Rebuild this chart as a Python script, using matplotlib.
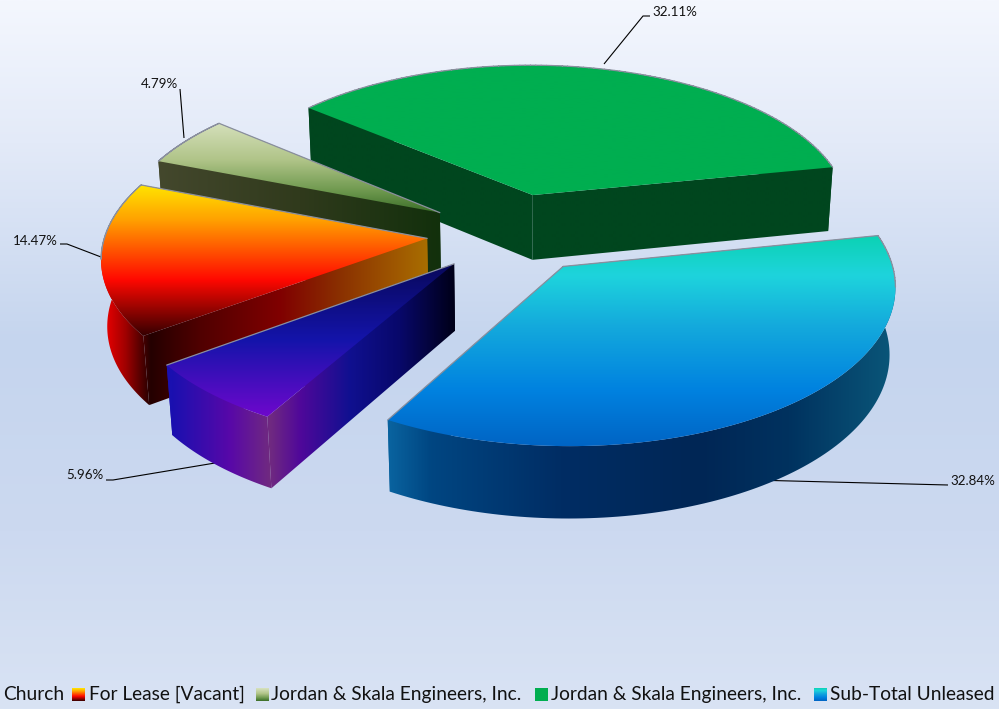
import numpy as np
import matplotlib
matplotlib.use('Agg')
import matplotlib.pyplot as plt
from matplotlib.colors import LinearSegmentedColormap
from matplotlib.patches import Polygon

plt.rcParams['font.family'] = ['Lato', 'DejaVu Sans']

# Slice data, clockwise from the first slice
labels = ['Church', 'For Lease [Vacant]', 'Jordan & Skala Engineers, Inc.',
          'Jordan & Skala Engineers, Inc.', 'Sub-Total Unleased']
values = [5.96, 14.47, 4.79, 32.11, 32.84]
value_labels = ['5.96%', '14.47%', '4.79%', '32.11%', '32.84%']

# Camera and pie settings, all in pixels of the 999x709 canvas
W, H = 999, 709
START_ANGLE = 240.3
EXPLODE = 0.265
CX, CY = 512.0, 233.0
SX, SY = 321.7, 152.0
PERSP = 0.11
DROP = 67.0
DEPTH_W = 0.015

# Top faces shade by screen row, side faces by screen column: (position, colour)
top_stops = [
    [(263, '#08085a'), (340, '#1414aa'), (415, '#6c08cc')],
    [(183, '#ffe800'), (220, '#ffa000'), (280, '#ff0800'), (335, '#380000')],
    [(120, '#d8e2bf'), (160, '#b0c488'), (190, '#709a50'), (213, '#3a6e28')],
    [(60, '#00ae50'), (200, '#00ae50')],
    [(236, '#0cd2b4'), (275, '#1ed4dc'), (325, '#14aadc'), (390, '#0082e0'), (447, '#0064c4')],
]
side_stops = [
    [(172, '#1a10b0'), (230, '#5808a8'), (270, '#702a80'), (300, '#50089a'),
     (350, '#101090'), (400, '#08086a'), (455, '#000018')],
    [(103, '#f00000'), (125, '#a00000'), (150, '#240000'), (200, '#500000'),
     (280, '#800000'), (340, '#8a3000'), (400, '#a05a00'), (428, '#a86e00')],
    [(157, '#44482d'), (300, '#303a1c'), (441, '#12300c')],
    [(307, '#00461e'), (835, '#00461e')],
    [(387, '#0a64a0'), (430, '#004682'), (560, '#002d64'), (700, '#002655'),
     (790, '#00325f'), (890, '#0a5578')],
]

# Leader lines and label anchors
leader_x = [[215, 113, 106], [101, 67, 60], [184, 180], [604, 643, 650], [752, 948]]
leader_y = [[463, 480, 480], [257, 244, 244], [138, 89], [64, 16, 16], [480, 485]]
label_x = [85, 35, 159, 675, 972.5]
label_y = [475, 241, 84, 12, 481]

legend_text_x = [3, 89, 271, 551, 830]
swatch_x = [None, 72, 256, 535, 814]
swatch_stops = [None, top_stops[1], top_stops[2], top_stops[3], top_stops[4]]


def project(x, y, drop=0.0):
    # Perspective projection of a point on the pie plane, drop pushes it below the top face
    w = 1 + PERSP * y + DEPTH_W * drop
    return CX + SX * x / w, CY + (-SY * y + DROP * drop) / w


def make_cmap(stops):
    lo, hi = stops[0][0], stops[-1][0]
    return LinearSegmentedColormap.from_list(
        '', [((p - lo) / (hi - lo), c) for p, c in stops]), lo, hi


def gradient_fill(ax, xs, ys, stops, vertical, zorder):
    # Paint a gradient image and clip it to the polygon
    cmap, lo, hi = make_cmap(stops)
    ramp = np.linspace(0, 1, 256)
    img = ramp.reshape(-1, 1) if vertical else ramp.reshape(1, -1)
    extent = (0, W, hi, lo) if vertical else (lo, hi, H, 0)
    im = ax.imshow(img, cmap=cmap, vmin=0, vmax=1, extent=extent, aspect='auto',
                   zorder=zorder, interpolation='bilinear')
    poly = Polygon(np.column_stack([xs, ys]), closed=True, transform=ax.transData,
                   facecolor='none', edgecolor='none')
    ax.add_patch(poly)
    im.set_clip_path(poly)


def outline_back_edges(ax, xs, ys, zorder):
    # Grey outline only where no wall hangs below the edge of the top face
    area = np.sum(xs * np.roll(ys, -1) - np.roll(xs, -1) * ys)
    px, py = [], []
    for j in range(len(xs)):
        k = (j + 1) % len(xs)
        # Outward normal's screen y component decides if the wall shows below this segment
        normal_y = -(xs[k] - xs[j]) * np.sign(area)
        if normal_y <= 0:
            px += [xs[j], xs[k], np.nan]
            py += [ys[j], ys[k], np.nan]
    ax.plot(px, py, color='#8a8f9e', linewidth=0.9, zorder=zorder, solid_capstyle='round')


def extend_gradient(stops):
    # Hold the end colours past both ends so any projected edge stays covered
    return [(stops[0][0] - 40, stops[0][1])] + list(stops) + [(stops[-1][0] + 40, stops[-1][1])]


fig = plt.figure(figsize=(W / 100, H / 100), dpi=100)
ax = fig.add_axes([0, 0, 1, 1])

# Page background
bg = LinearSegmentedColormap.from_list('', [(0, '#f4f7fe'), (0.2, '#e3eaf8'),
                                            (0.48, '#c5d5ee'), (0.75, '#ccd9f0'), (1, '#d9e3f4')])
ax.imshow(np.linspace(0, 1, 256).reshape(-1, 1), cmap=bg, extent=(0, W, H, 0), aspect='auto', zorder=0)

total = sum(values)
angle = START_ANGLE
z = 1.0
slices = []
for i, v in enumerate(values):
    sweep = v / total * 360
    slices.append((i, angle, angle - sweep))
    angle -= sweep

# Back slices first, the front blue one last
for i, a0, a1 in [slices[3], slices[2], slices[1], slices[0], slices[4]]:
    mid = np.radians((a0 + a1) / 2)
    ox, oy = EXPLODE * np.cos(mid), EXPLODE * np.sin(mid)
    t = np.radians(np.linspace(a0, a1, 120))
    rx, ry = ox + np.cos(t), oy + np.sin(t)

    side = extend_gradient(side_stops[i])
    # Cut faces, the farther one first
    cuts = [(rx[0], ry[0]), (rx[-1], ry[-1])]
    cuts.sort(key=lambda p: -p[1])
    for px, py in cuts:
        qx = [ox, px, px, ox]
        qy = [oy, py, py, oy]
        dr = [0, 0, 1, 1]
        sx, sy = zip(*[project(a, b, d) for a, b, d in zip(qx, qy, dr)])
        gradient_fill(ax, np.array(sx), np.array(sy), side, False, z)
        z += 1

    # Outer wall
    tx, ty = project(rx, ry)
    bx, by = project(rx, ry, 1.0)
    gradient_fill(ax, np.r_[tx, bx[::-1]], np.r_[ty, by[::-1]], side, False, z)
    z += 1

    # Top face
    ax_, ay_ = project(ox, oy)
    fx, fy = np.r_[ax_, tx], np.r_[ay_, ty]
    gradient_fill(ax, fx, fy, extend_gradient(top_stops[i]), True, z)
    outline_back_edges(ax, fx, fy, z + 0.1)
    z += 1

# Leader lines sit under the slices, the labels on top
for xs, ys in zip(leader_x, leader_y):
    ax.plot(xs, ys, color='black', linewidth=0.8, zorder=0.5, solid_capstyle='butt')
for x, y, s in zip(label_x, label_y, value_labels):
    ax.text(x, y, s, fontsize=9.6, ha='center', va='center', color='#111111', zorder=500)

# Legend row along the bottom
for x, s in zip(legend_text_x, labels):
    ax.text(x, 700, s, fontsize=13.8, ha='left', va='baseline', color='#111111', zorder=500)
for x, stops in zip(swatch_x, swatch_stops):
    if x is None:
        continue
    cmap = make_cmap(stops)[0]
    ax.imshow(np.linspace(0, 1, 64).reshape(-1, 1), cmap=cmap, extent=(x, x + 13, 701, 688),
              aspect='auto', zorder=500)

ax.set_xlim(0, W)
ax.set_ylim(H, 0)
ax.axis('off')
fig.savefig('out.png', dpi=100)
